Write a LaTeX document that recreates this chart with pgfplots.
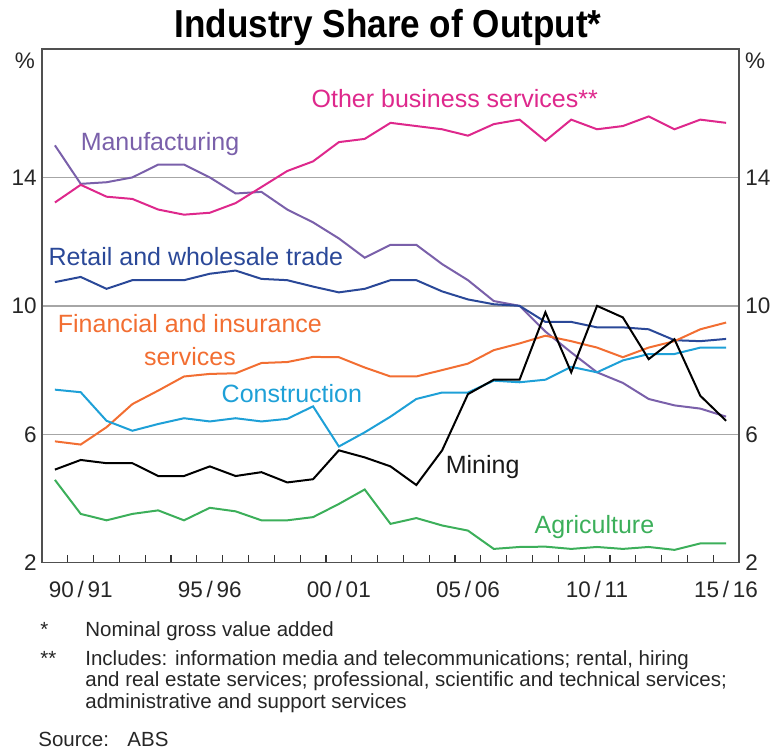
\documentclass[border=0pt]{standalone}
\usepackage{fontspec}
\setmainfont{Liberation Sans}
\newfontfamily\titlefont[FakeStretch=0.9]{Liberation Sans}
\usepackage{pgfplots}
\pgfplotsset{compat=1.18}
\definecolor{manu}{RGB}{122,96,170}
\definecolor{obs}{RGB}{222,40,140}
\definecolor{retail}{RGB}{42,72,152}
\definecolor{fin}{RGB}{242,110,50}
\definecolor{constr}{RGB}{30,160,215}
\definecolor{agri}{RGB}{60,175,90}
\definecolor{frame}{RGB}{80,80,80}
\begin{document}
\begin{tikzpicture}[x=0.5pt,y=0.5pt]
\path[use as bounding box] (0,0) rectangle (774,751);
\begin{axis}[
  at={(21pt,94.15pt)}, anchor=south west, scale only axis,
  width=348.5pt, height=256.85pt,
  xmin=-0.5, xmax=26.5, ymin=2, ymax=18,
  ytick={2,6,10,14}, ymajorgrids,
  grid style={black!35, line width=0.7pt},
  xtick={1,6,11,16,21,26},
  xticklabels={90\,/\,91,95\,/\,96,00\,/\,01,05\,/\,06,10\,/\,11,15\,/\,16},
  minor xtick={0.5,1.5,...,25.5},
  xtick pos=left, ytick pos=left,
  major tick length=0pt, minor tick length=4pt, tick align=inside,
  minor tick style={black!80, line width=0.6pt},
  axis line style={frame, line width=0.75pt},
  /pgf/number format/assume math mode=true,
  tick label style={font=\fontsize{11.25}{13}\selectfont, text=black!85},
  yticklabel style={anchor=east, inner sep=0pt, xshift=-2.5pt},
  xticklabel style={anchor=base, inner sep=0pt, yshift=-17.5pt},
  every axis plot/.append style={line width=1pt, mark=none},
  clip=false,
]
\addplot[manu] coordinates {(0,15.0)(1,13.8)(2,13.85)(3,14.0)(4,14.4)(5,14.4)(6,14.0)(7,13.5)(8,13.55)(9,13.0)(10,12.6)(11,12.1)(12,11.5)(13,11.9)(14,11.9)(15,11.3)(16,10.8)(17,10.15)(18,10.0)(19,9.2)(20,8.55)(21,7.93)(22,7.6)(23,7.1)(24,6.9)(25,6.8)(26,6.55)};
\addplot[obs] coordinates {(0,13.22)(1,13.77)(2,13.4)(3,13.33)(4,13.0)(5,12.84)(6,12.9)(7,13.2)(8,13.7)(9,14.2)(10,14.5)(11,15.1)(12,15.2)(13,15.7)(14,15.6)(15,15.5)(16,15.3)(17,15.66)(18,15.8)(19,15.14)(20,15.8)(21,15.5)(22,15.6)(23,15.9)(24,15.5)(25,15.8)(26,15.7)};
\addplot[retail] coordinates {(0,10.74)(1,10.9)(2,10.53)(3,10.8)(4,10.8)(5,10.8)(6,11.0)(7,11.1)(8,10.84)(9,10.8)(10,10.6)(11,10.42)(12,10.53)(13,10.8)(14,10.8)(15,10.45)(16,10.2)(17,10.05)(18,10.0)(19,9.5)(20,9.5)(21,9.33)(22,9.33)(23,9.27)(24,8.93)(25,8.9)(26,8.97)};
\addplot[fin] coordinates {(0,5.78)(1,5.68)(2,6.22)(3,6.94)(4,7.36)(5,7.8)(6,7.88)(7,7.9)(8,8.22)(9,8.25)(10,8.41)(11,8.4)(12,8.08)(13,7.8)(14,7.8)(15,8.0)(16,8.2)(17,8.62)(18,8.83)(19,9.07)(20,8.9)(21,8.7)(22,8.4)(23,8.7)(24,8.9)(25,9.27)(26,9.48)};
\addplot[constr] coordinates {(0,7.39)(1,7.31)(2,6.42)(3,6.11)(4,6.32)(5,6.5)(6,6.4)(7,6.5)(8,6.4)(9,6.48)(10,6.87)(11,5.62)(12,6.06)(13,6.55)(14,7.1)(15,7.3)(16,7.3)(17,7.67)(18,7.62)(19,7.7)(20,8.1)(21,7.93)(22,8.3)(23,8.5)(24,8.5)(25,8.7)(26,8.7)};
\addplot[black] coordinates {(0,4.9)(1,5.2)(2,5.1)(3,5.1)(4,4.7)(5,4.7)(6,5.0)(7,4.7)(8,4.82)(9,4.5)(10,4.6)(11,5.5)(12,5.28)(13,5.0)(14,4.42)(15,5.5)(16,7.25)(17,7.7)(18,7.7)(19,9.8)(20,7.93)(21,10.0)(22,9.64)(23,8.34)(24,8.96)(25,7.2)(26,6.42)};
\addplot[agri] coordinates {(0,4.58)(1,3.52)(2,3.32)(3,3.52)(4,3.63)(5,3.32)(6,3.71)(7,3.6)(8,3.32)(9,3.32)(10,3.42)(11,3.83)(12,4.28)(13,3.21)(14,3.39)(15,3.16)(16,3.0)(17,2.43)(18,2.49)(19,2.5)(20,2.43)(21,2.49)(22,2.43)(23,2.49)(24,2.4)(25,2.6)(26,2.6)};
\begin{scope}[every node/.style={font=\fontsize{12.5}{16.5}\selectfont, inner sep=0pt}]
\node[text=obs] at (axis cs:15.49,16.47) {Other business services**};
\node[text=manu] at (axis cs:4.07,15.04) {Manufacturing};
\node[text=retail] at (axis cs:5.46,11.53) {Retail and wholesale trade};
\node[text=fin, align=center] at (axis cs:5.23,8.94) {Financial and insurance\\services};
\node[text=constr] at (axis cs:9.18,7.28) {Construction};
\node[text=black!90] at (axis cs:16.57,4.97) {Mining};
\node[text=agri] at (axis cs:20.9,3.11) {Agriculture};
\end{scope}
\end{axis}
\begin{axis}[
  at={(21pt,94.15pt)}, anchor=south west, scale only axis,
  width=348.5pt, height=256.85pt,
  xmin=-0.5, xmax=26.5, ymin=2, ymax=18,
  hide x axis, axis y line*=right,
  ytick={2,6,10,14}, major tick length=0pt,
  axis line style={frame, line width=0.75pt},
  /pgf/number format/assume math mode=true,
  tick label style={font=\fontsize{11.25}{13}\selectfont, text=black!85},
  yticklabel style={anchor=west, inner sep=0pt, xshift=3pt},
]
\end{axis}
\node[font=\titlefont\fontsize{19.5}{22}\selectfont\bfseries, anchor=base] at (388,713) {Industry Share of Output*};
\node[font=\fontsize{11.25}{13}\selectfont, text=black!85] at (25,690) {\%};
\node[font=\fontsize{11.25}{13}\selectfont, text=black!85] at (755,690) {\%};
\begin{scope}[every node/.style={font=\fontsize{10.25}{12}\selectfont, anchor=base west, inner sep=0pt, text=black!85}]
\node at (40,114.3) {*};
\node at (85,114.3) {Nominal gross value added};
\node at (40,86) {**};
\node at (85,86) {Includes: information media and telecommunications; rental, hiring};
\node at (85,64.3) {and real estate services; professional, scientific and technical services;};
\node at (85,42.7) {administrative and support services};
\node at (38,4.3) {Source:};
\node at (127,4.3) {ABS};
\end{scope}
\end{tikzpicture}
\end{document}
